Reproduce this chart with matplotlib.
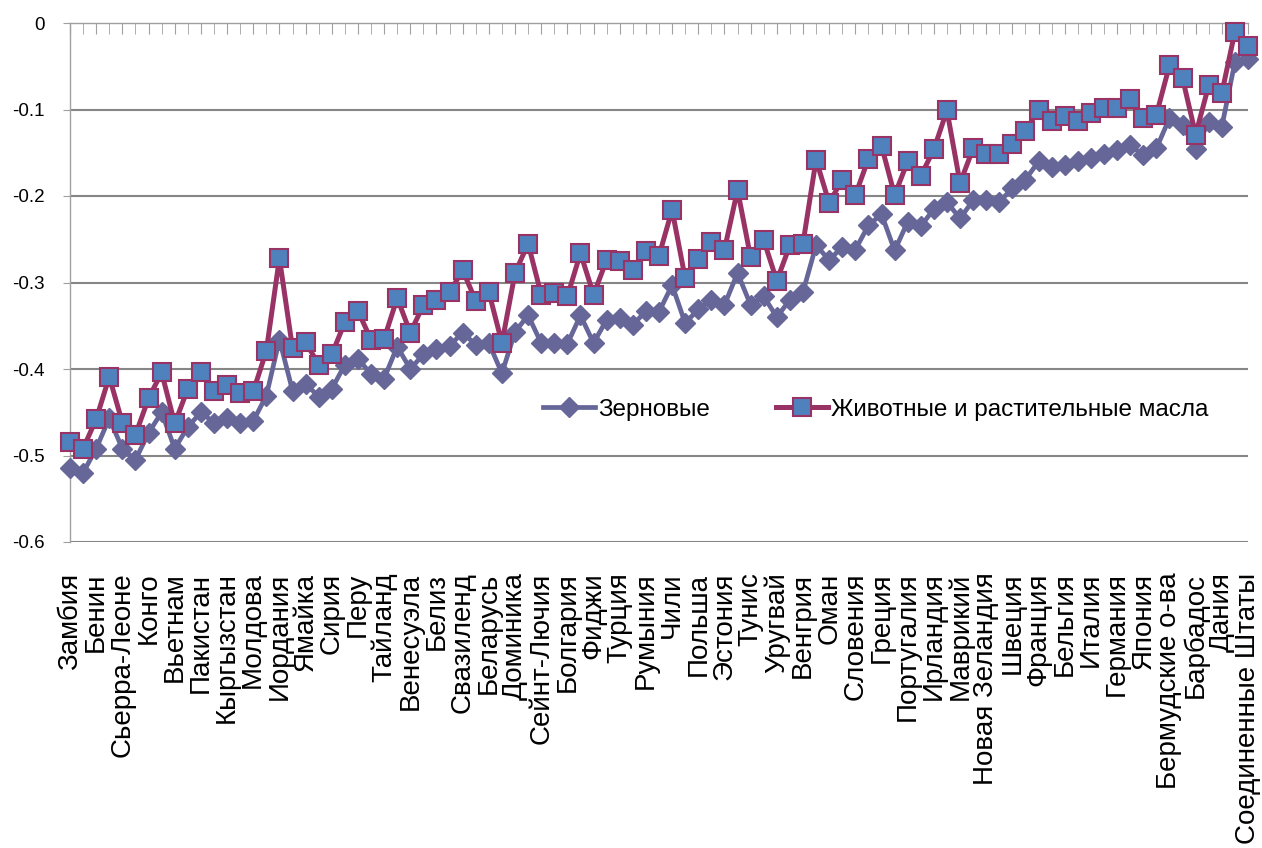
import matplotlib
matplotlib.use("Agg")
import matplotlib.pyplot as plt
import numpy as np

plt.rcParams['font.family'] = ['Liberation Sans', 'DejaVu Sans']
plt.rcParams['axes.unicode_minus'] = False

labels_shown = ["Замбия", "Бенин", "Сьерра-Леоне", "Конго", "Вьетнам", "Пакистан",
                "Кыргызстан", "Молдова", "Иордания", "Ямайка", "Сирия", "Перу",
                "Тайланд", "Венесуэла", "Белиз", "Свазиленд", "Беларусь", "Доминика",
                "Сейнт-Лючия", "Болгария", "Фиджи", "Турция", "Румыния", "Чили",
                "Польша", "Эстония", "Тунис", "Уругвай", "Венгрия", "Оман",
                "Словения", "Греция", "Португалия", "Ирландия", "Маврикий",
                "Новая Зеландия", "Швеция", "Франция", "Бельгия", "Италия",
                "Германия", "Япония", "Бермудские о-ва", "Барбадос", "Дания",
                "Соединенные Штаты"]

grain = [-0.515, -0.520, -0.492, -0.457, -0.492, -0.505, -0.474, -0.450, -0.492, -0.467,
         -0.450, -0.462, -0.457, -0.462, -0.460, -0.431, -0.366, -0.425, -0.417, -0.432,
         -0.423, -0.395, -0.388, -0.406, -0.411, -0.374, -0.400, -0.383, -0.377, -0.373,
         -0.358, -0.372, -0.370, -0.405, -0.357, -0.338, -0.370, -0.370, -0.371, -0.338,
         -0.370, -0.343, -0.341, -0.349, -0.333, -0.334, -0.303, -0.347, -0.331, -0.320,
         -0.326, -0.289, -0.326, -0.316, -0.340, -0.320, -0.311, -0.257, -0.274, -0.259,
         -0.262, -0.234, -0.221, -0.263, -0.230, -0.235, -0.215, -0.207, -0.226, -0.205,
         -0.205, -0.207, -0.191, -0.181, -0.160, -0.167, -0.164, -0.160, -0.156, -0.151,
         -0.147, -0.141, -0.153, -0.145, -0.110, -0.118, -0.146, -0.114, -0.120, -0.045,
         -0.042]

oils = [-0.484, -0.492, -0.458, -0.409, -0.462, -0.476, -0.434, -0.404, -0.463, -0.423,
        -0.404, -0.425, -0.419, -0.428, -0.426, -0.379, -0.272, -0.376, -0.369, -0.395,
        -0.383, -0.346, -0.333, -0.366, -0.365, -0.318, -0.358, -0.326, -0.320, -0.311,
        -0.286, -0.321, -0.311, -0.370, -0.289, -0.255, -0.314, -0.312, -0.316, -0.266,
        -0.314, -0.274, -0.275, -0.285, -0.264, -0.269, -0.216, -0.295, -0.273, -0.253,
        -0.262, -0.193, -0.271, -0.251, -0.298, -0.257, -0.255, -0.158, -0.208, -0.181,
        -0.199, -0.157, -0.142, -0.199, -0.160, -0.177, -0.146, -0.101, -0.185, -0.145,
        -0.151, -0.151, -0.140, -0.125, -0.100, -0.113, -0.108, -0.113, -0.104, -0.098,
        -0.098, -0.088, -0.110, -0.106, -0.049, -0.064, -0.129, -0.072, -0.081, -0.010,
        -0.027]

series_names = ["Зерновые", "Животные и растительные масла"]
y_ticks = [0, -0.1, -0.2, -0.3, -0.4, -0.5, -0.6]
y_tick_labels = ["0", "-0.1", "-0.2", "-0.3", "-0.4", "-0.5", "-0.6"]

W, H = 1262, 848
fig = plt.figure(figsize=(W / 100, H / 100), dpi=100)
ax = fig.add_axes([70 / W, 1 - 542 / H, (1248 - 70) / W, (542 - 23) / H])

x = np.arange(len(grain))
grid_c = "#868686"
for yv in y_ticks[1:]:
    ax.axhline(yv, color=grid_c, lw=1.5, zorder=1)

ax.plot(x, grain, color="#666699", lw=3.4, marker="D", markersize=10,
        markerfacecolor="#666699", markeredgecolor="#666699", zorder=3,
        label=series_names[0], clip_on=False)
ax.plot(x, oils, color="#993366", lw=3.6, marker="s", markersize=13.5,
        markerfacecolor="#4F81BD", markeredgecolor="#993366", markeredgewidth=1.5,
        zorder=4, label=series_names[1], clip_on=False)

ax.set_xlim(0, len(grain) - 1)
ax.set_ylim(-0.6, 0)
ax.set_yticks(y_ticks)
ax.set_yticklabels(y_tick_labels, fontsize=13.5)
ax.tick_params(axis='y', direction='out', length=5, color="#a0a0a0", pad=13)

ax.set_xticks(x, minor=True)
ax.set_xticks(x[::2])
ax.set_xticklabels(labels_shown, rotation=90, fontsize=20, va='top', ha='center')
ax.tick_params(axis='x', which='both', top=True, bottom=False, labeltop=False,
               labelbottom=True, direction='in', length=8, color="#a0a0a0", pad=22)

for s in ['right', 'bottom']:
    ax.spines[s].set_visible(False)
for s in ['left', 'top']:
    ax.spines[s].set_color("#a0a0a0")
    ax.spines[s].set_linewidth(1.0)

leg = ax.legend(loc='center left', bbox_to_anchor=(543 / W, 1 - 410 / H),
                bbox_transform=fig.transFigure, ncol=2, frameon=False,
                fontsize=17.5, handlelength=2.15, handletextpad=0.12,
                columnspacing=2.7, borderaxespad=0, borderpad=0)

fig.savefig("out.png", dpi=100)
